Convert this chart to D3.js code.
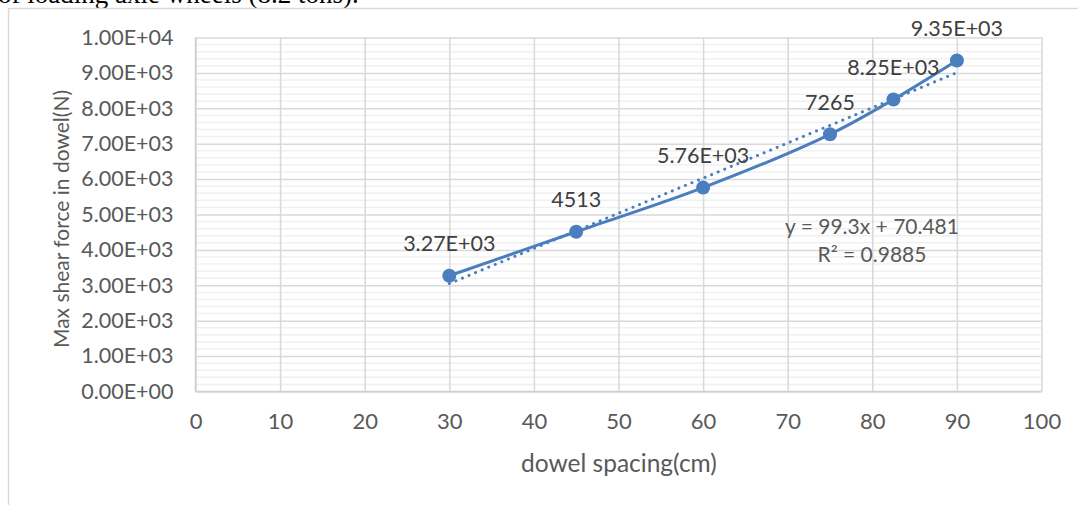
<!DOCTYPE html>
<meta charset="utf-8">
<script src="https://d3js.org/d3.v7.min.js"></script>
<style>
  body { margin: 0; background: #fff; }
  text { font-family: Lato, "Open Sans", sans-serif; fill: #595959; }
</style>
<div id="my_dataviz"></div>
<script>

// data
var spacing = [30, 45, 60, 75, 82.5, 90];
var shear = [3270, 4513, 5760, 7265, 8250, 9350];
var pointLabels = ["3.27E+03", "4513", "5.76E+03", "7265", "8.25E+03", "9.35E+03"];
var xTicks = [0, 10, 20, 30, 40, 50, 60, 70, 80, 90, 100];
var yTicks = [0, 1000, 2000, 3000, 4000, 5000, 6000, 7000, 8000, 9000, 10000];
var yTickLabels = ["0.00E+00", "1.00E+03", "2.00E+03", "3.00E+03", "4.00E+03", "5.00E+03",
                   "6.00E+03", "7.00E+03", "8.00E+03", "9.00E+03", "1.00E+04"];
// trendline as printed on the chart
var trendSlope = 99.3, trendIntercept = 70.481;
var trendLabel = ["y = 99.3x + 70.481", "R² = 0.9885"];

var W = 1078, H = 505;
var margin = {top: 37.5, right: 36.5, bottom: 113.5, left: 195.5},
    width = W - margin.left - margin.right,
    height = H - margin.top - margin.bottom;

var root = d3.select("#my_dataviz")
  .append("svg")
    .attr("width", W)
    .attr("height", H);

// bit of the document text above the chart
root.append("text")
    .attr("x", -2)
    .attr("y", 3)
    .style("font-family", "'Liberation Serif', serif")
    .style("font-size", "27px")
    .style("fill", "#000")
    .text("of loading axle wheels (8.2 tons).");

// chart frame
root.append("rect")
    .attr("x", 8.5).attr("y", 8.5)
    .attr("width", W).attr("height", H)
    .attr("fill", "none")
    .attr("stroke", "#d9d9d9")
    .attr("stroke-width", 1.5);

var svg = root.append("g")
    .attr("transform", "translate(" + margin.left + "," + margin.top + ")");

var x = d3.scaleLinear().domain([0, 100]).range([0, width]);
var y = d3.scaleLinear().domain([0, 10000]).range([height, 0]);

// minor gridlines
svg.append("g")
  .selectAll("line")
  .data(d3.range(0, 10001, 200).filter(function(v) { return v % 1000 !== 0; }))
  .enter().append("line")
    .attr("x1", 0).attr("x2", width)
    .attr("y1", function(d) { return y(d); })
    .attr("y2", function(d) { return y(d); })
    .attr("stroke", "#f0f0f0")
    .attr("stroke-width", 1.5);

// major gridlines
svg.append("g")
  .attr("class", "grid")
  .call(d3.axisLeft(y).tickValues(yTicks).tickSize(-width).tickFormat(""))
  .call(function(g) { g.select(".domain").remove(); })
  .selectAll("line").attr("stroke", "#d9d9d9").attr("stroke-width", 1.5);

svg.append("g")
  .attr("class", "grid")
  .attr("transform", "translate(0," + height + ")")
  .call(d3.axisBottom(x).tickValues(xTicks).tickSize(-height).tickFormat(""))
  .call(function(g) { g.select(".domain").remove(); })
  .selectAll("line").attr("stroke", "#d9d9d9").attr("stroke-width", 1.5);

// axis lines
svg.append("line")
    .attr("x1", 0).attr("x2", width)
    .attr("y1", height).attr("y2", height)
    .attr("stroke", "#d0d0d0").attr("stroke-width", 1.5);
svg.append("line")
    .attr("x1", 0).attr("x2", 0)
    .attr("y1", 0).attr("y2", height)
    .attr("stroke", "#d0d0d0").attr("stroke-width", 1.5);

// tick labels
var yAxis = svg.append("g")
  .call(d3.axisLeft(y).tickValues(yTicks).tickSize(0).tickPadding(22)
        .tickFormat(function(d, i) { return yTickLabels[i]; }));
yAxis.select(".domain").remove();
yAxis.selectAll("text").style("font-size", "21.5px").style("fill", "#595959")
     .style("font-family", "Lato, sans-serif");

var xAxis = svg.append("g")
  .attr("transform", "translate(0," + height + ")")
  .call(d3.axisBottom(x).tickValues(xTicks).tickSize(0).tickPadding(22));
xAxis.select(".domain").remove();
xAxis.selectAll("text").style("font-size", "22px").style("fill", "#595959")
     .style("font-family", "Lato, sans-serif");

// axis titles
svg.append("text")
    .attr("transform", "translate(" + (62 - margin.left) + "," + (219 - margin.top) + ") rotate(-90)")
    .attr("dy", "0.35em")
    .style("text-anchor", "middle")
    .style("font-size", "21px")
    .text("Max shear force in dowel(N)");

svg.append("text")
    .attr("x", 619 - margin.left)
    .attr("y", 463 - margin.top)
    .attr("dy", "0.35em")
    .style("text-anchor", "middle")
    .style("font-size", "24.5px")
    .text("dowel spacing(cm)");

var blue = "#4a7ebf";

// linear trendline (dotted)
var xs = d3.extent(spacing);
svg.append("line")
    .attr("x1", x(xs[0])).attr("y1", y(trendSlope * xs[0] + trendIntercept))
    .attr("x2", x(xs[1])).attr("y2", y(trendSlope * xs[1] + trendIntercept))
    .attr("stroke", blue)
    .attr("stroke-width", 3)
    .attr("stroke-linecap", "round")
    .attr("stroke-dasharray", "0.1,7");

// smoothed series line
var data = spacing.map(function(s, i) { return {x: s, y: shear[i], label: pointLabels[i]}; });

svg.append("path")
  .datum(data)
    .attr("fill", "none")
    .attr("stroke", blue)
    .attr("stroke-width", 3)
    .attr("d", d3.line()
      .curve(d3.curveCatmullRom.alpha(0.5))
      .x(function(d) { return x(d.x); })
      .y(function(d) { return y(d.y); }));

svg.selectAll(".pt")
  .data(data)
  .enter().append("circle")
    .attr("class", "pt")
    .attr("cx", function(d) { return x(d.x); })
    .attr("cy", function(d) { return y(d.y); })
    .attr("r", 7)
    .attr("fill", blue);

svg.selectAll(".lbl")
  .data(data)
  .enter().append("text")
    .attr("class", "lbl")
    .attr("x", function(d) { return x(d.x); })
    .attr("y", function(d) { return y(d.y) - 32; })
    .attr("dy", "0.35em")
    .style("text-anchor", "middle")
    .style("font-size", "21.5px")
    .style("fill", "#404040")
    .text(function(d) { return d.label; });

// trendline equation
svg.selectAll(".eq")
  .data(trendLabel)
  .enter().append("text")
    .attr("class", "eq")
    .attr("x", 872 - margin.left)
    .attr("y", function(d, i) { return 227 - margin.top + i * 28; })
    .attr("dy", "0.35em")
    .style("text-anchor", "middle")
    .style("font-size", "21px")
    .text(function(d) { return d; });

</script>
